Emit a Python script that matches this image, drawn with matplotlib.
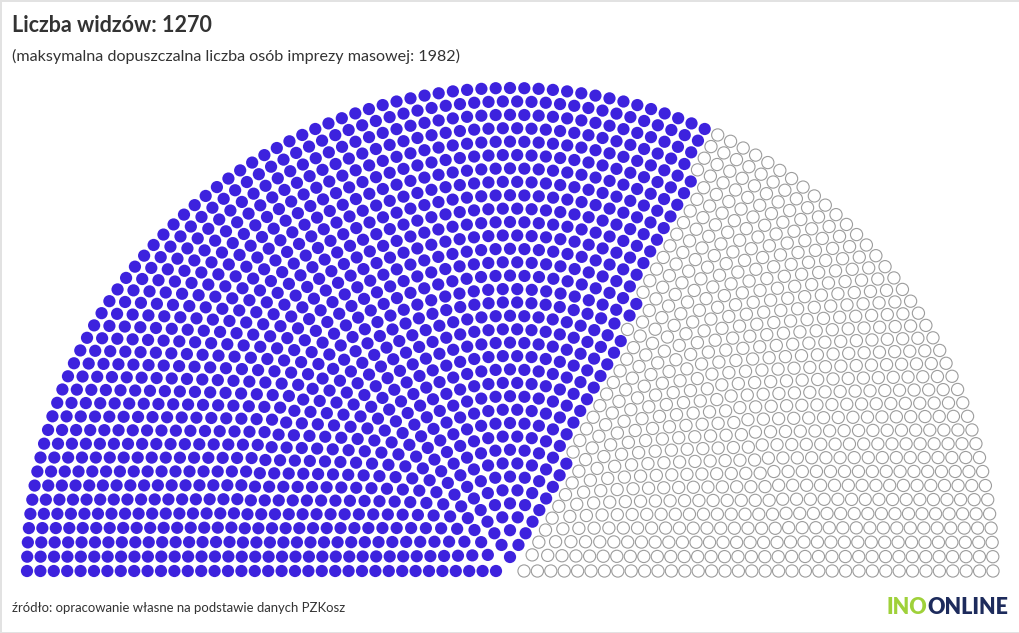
import numpy as np
import matplotlib
matplotlib.use("Agg")
import matplotlib.pyplot as plt
from matplotlib.patches import Circle
from matplotlib.collections import PatchCollection

# values
total_seats = 1982
viewers = 1270
n_rings = 36
inner_ratio = 0.029   # innermost ring radius / outer ring radius

title = "Liczba widzów: 1270"
subtitle = "(maksymalna dopuszczalna liczba osób imprezy masowej: 1982)"
source = "źródło: opracowanie własne na podstawie danych PZKosz"

blue = "#3d22de"
empty_edge = "#9c9c9c"

plt.rcParams['font.family'] = ['Lato', 'DejaVu Sans']

# seats per ring, proportional to the ring radius
radii = np.linspace(inner_ratio, 1.0, n_rings)
raw = total_seats * radii / radii.sum()
counts = np.floor(raw).astype(int)
rest = total_seats - counts.sum()
order = np.argsort(-(raw - counts))
counts[order[:rest]] += 1

# fill seats ring by ring, always topping up the ring that is least full
progress = np.zeros(n_rings, dtype=int)
ring_order = list(range(n_rings))[::-1]   # outer ring first on ties
xs, ys = [], []
for k in range(total_seats):
    best = min((i for i in ring_order if progress[i] < counts[i]),
               key=lambda i: progress[i] / counts[i])
    r, n = radii[best], counts[best]
    theta = np.pi - progress[best] * np.pi / (n - 1)
    xs.append(r * np.cos(theta))
    ys.append(r * np.sin(theta))
    progress[best] += 1

W, H = 1020, 633
fig = plt.figure(figsize=(W / 100, H / 100), dpi=100)
fig.patch.set_facecolor("white")
fig.patch.set_edgecolor("#e2e2e2")
fig.patch.set_linewidth(2)

# chart area: centre at (510, 571) px, outer radius 483 px
R = 483.0
cx, cy = 510.0, 571.0
x0, x1, y0, y1 = -1.05, 1.05, -0.05, 1.05
ax = fig.add_axes([(cx + x0 * R) / W, (H - cy + y0 * R) / H,
                   (x1 - x0) * R / W, (y1 - y0) * R / H])
ax.set_xlim(x0, x1)
ax.set_ylim(y0, y1)
ax.axis("off")

dot_r = 6.1 / R
circles = [Circle((x, y), dot_r) for x, y in zip(xs, ys)]
face = [blue if i < viewers else "white" for i in range(len(circles))]
edge = [blue if i < viewers else empty_edge for i in range(len(circles))]
lw = [0.01 if i < viewers else 0.8 for i in range(len(circles))]
pc = PatchCollection(circles, facecolors=face, edgecolors=edge, linewidths=lw)
ax.add_collection(pc)

fig.text(12 / W, 1 - 25 / H, title, fontsize=15.5, fontweight="bold",
         color="#333333", va="center", ha="left")
fig.text(12 / W, 1 - 56 / H, subtitle, fontsize=11.6, color="#333333",
         va="center", ha="left")
fig.text(12 / W, 1 - 608 / H, source, fontsize=9.45, color="#333333",
         va="center", ha="left")

# logo
t2 = fig.text(1008 / W, 1 - 607 / H, "ONLINE", fontsize=15.5, fontweight="heavy",
              color="#1d2b5c", va="center", ha="right")
fig.canvas.draw()
bb = t2.get_window_extent()
fig.text(bb.x0 / W, 1 - 607 / H, "INO", fontsize=15.5, fontweight="heavy",
         color="#9fd13a", va="center", ha="right")

fig.savefig("out.png", dpi=100)
